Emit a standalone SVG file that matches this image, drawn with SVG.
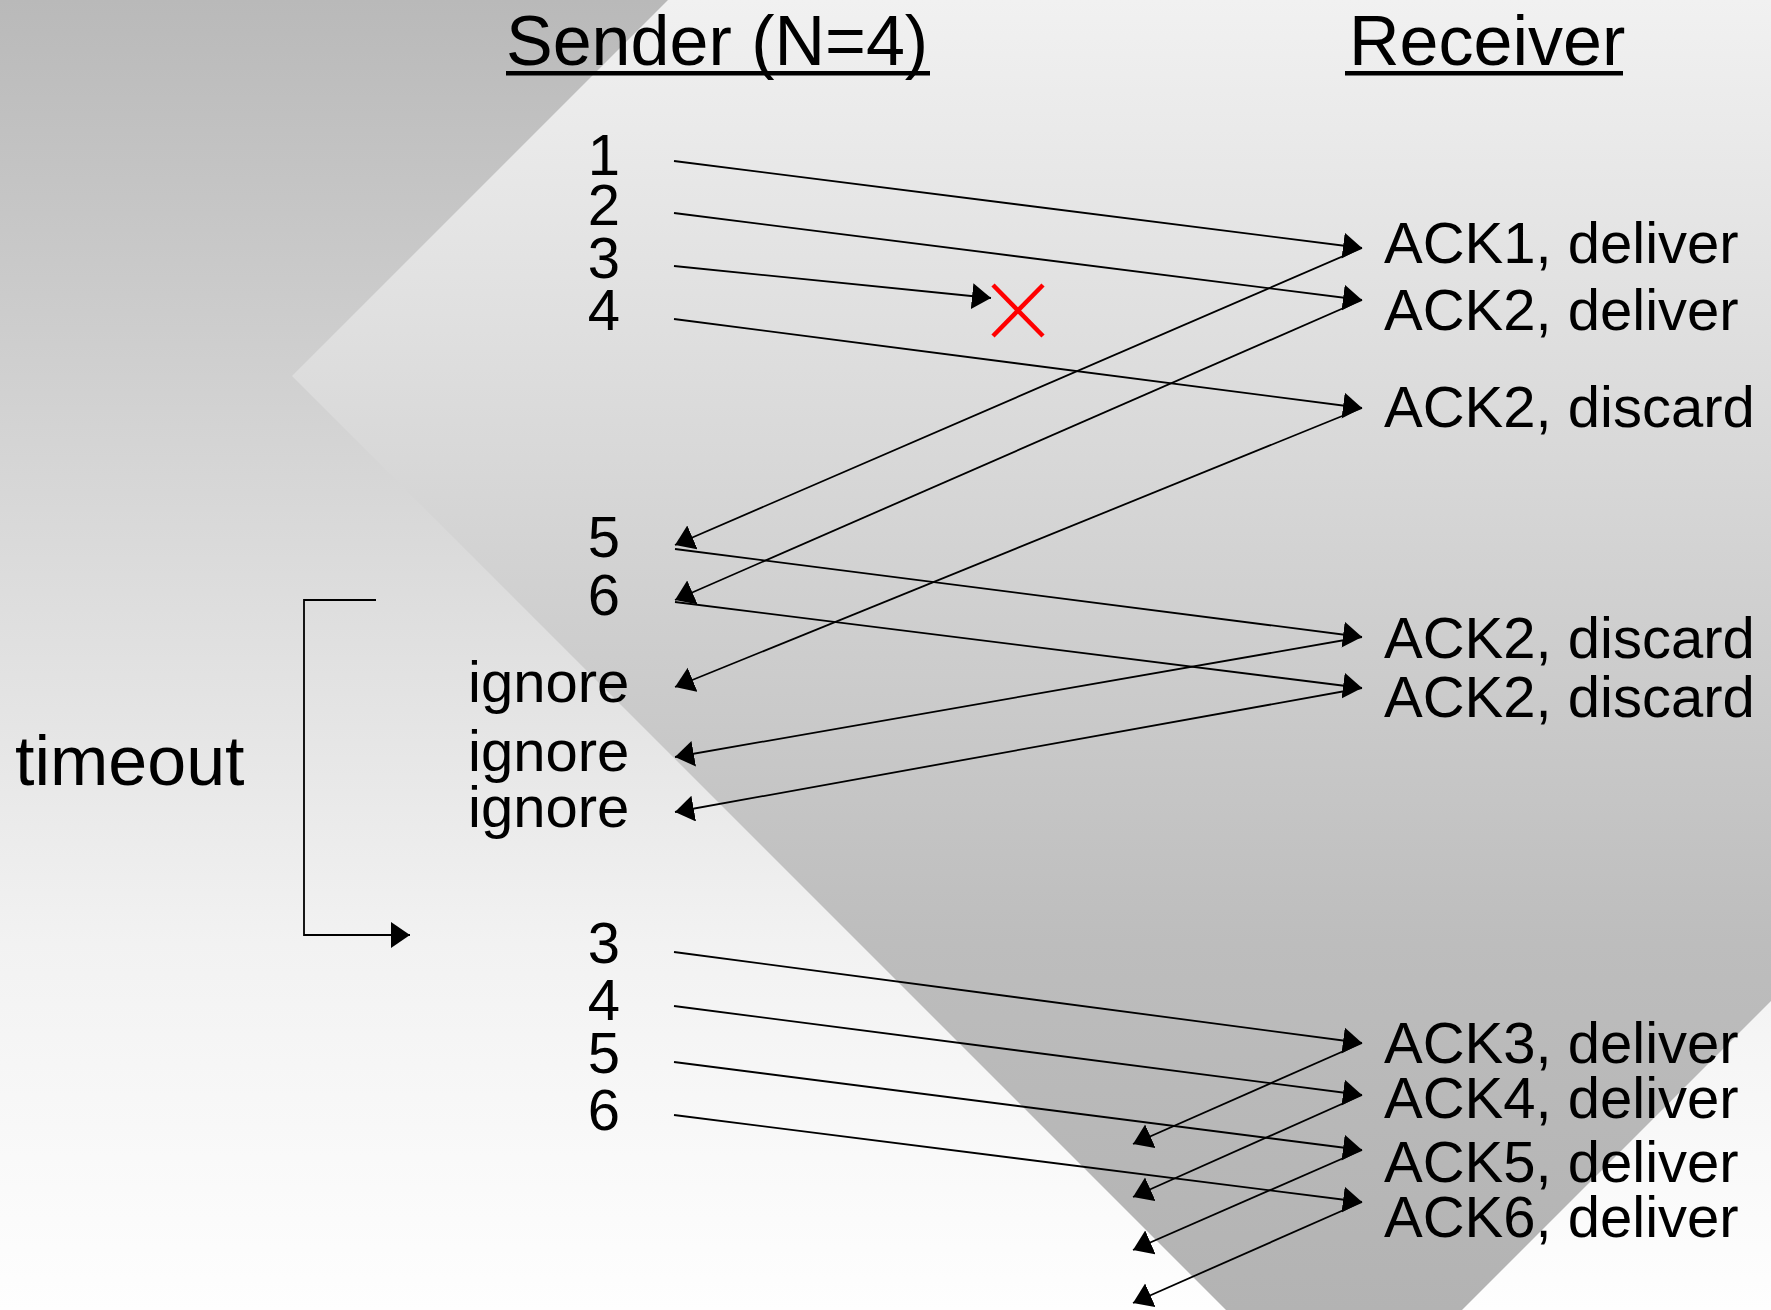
<svg xmlns="http://www.w3.org/2000/svg" width="1771" height="1310" viewBox="0 0 1771 1310">
<defs>
<linearGradient id="gOut" gradientUnits="userSpaceOnUse" x1="0" y1="0" x2="0" y2="1310">
<stop offset="0" stop-color="#b9b9b9"/><stop offset="0.35" stop-color="#d5d5d5"/><stop offset="0.72" stop-color="#f2f2f2"/><stop offset="1" stop-color="#fefefe"/>
</linearGradient>
<linearGradient id="gIn" gradientUnits="userSpaceOnUse" x1="0" y1="0" x2="0" y2="1310">
<stop offset="0" stop-color="#f1f1f1"/><stop offset="0.35" stop-color="#d8d8d8"/><stop offset="0.72" stop-color="#bdbdbd"/><stop offset="1" stop-color="#b3b3b3"/>
</linearGradient>
<marker id="ah" markerUnits="userSpaceOnUse" markerWidth="20" markerHeight="28" refX="19" refY="13" orient="auto">
<path d="M0,0 L19,13 L0,26 Z" fill="#000"/>
</marker>
<style>
.t{font-family:"Liberation Sans",Arial,Helvetica,sans-serif;fill:#000}
.h{font-size:70px}
.n{font-size:58px}
.c line,.c path{stroke:#000;stroke-width:1.8;fill:none;marker-end:url(#ah)}
.x line{stroke:#ff0000;stroke-width:4.5}
</style>
</defs>
<rect x="0" y="0" width="1771" height="1310" fill="url(#gOut)"/>
<polygon points="668,0 1771,0 1771,1001 1462,1310 1226,1310 292,376" fill="url(#gIn)"/>

<g id="title-sender"><text class="t h" x="506" y="65">Sender (N=4)</text><line x1="506" y1="73.3" x2="930" y2="73.3" stroke="#000" stroke-width="4.5"/></g>
<g id="title-receiver"><text class="t h" x="1349" y="65">Receiver</text><line x1="1345" y1="73.3" x2="1623" y2="73.3" stroke="#000" stroke-width="4.5"/></g>

<g id="sender-1"><text class="t n" x="620" y="175" text-anchor="end">1</text></g>
<g id="sender-2"><text class="t n" x="620" y="225" text-anchor="end">2</text></g>
<g id="sender-3"><text class="t n" x="620" y="278" text-anchor="end">3</text></g>
<g id="sender-4"><text class="t n" x="620" y="330" text-anchor="end">4</text></g>
<g id="sender-5"><text class="t n" x="620" y="557" text-anchor="end">5</text></g>
<g id="sender-6"><text class="t n" x="620" y="615" text-anchor="end">6</text></g>
<g id="ignore-1"><text class="t n" x="468" y="702">ignore</text></g>
<g id="ignore-2"><text class="t n" x="468" y="771">ignore</text></g>
<g id="ignore-3"><text class="t n" x="468" y="827">ignore</text></g>
<g id="resend-3"><text class="t n" x="620" y="963" text-anchor="end">3</text></g>
<g id="resend-4"><text class="t n" x="620" y="1020" text-anchor="end">4</text></g>
<g id="resend-5"><text class="t n" x="620" y="1073" text-anchor="end">5</text></g>
<g id="resend-6"><text class="t n" x="620" y="1130" text-anchor="end">6</text></g>
<g id="timeout"><text class="t h" x="15" y="785">timeout</text></g>

<g id="recv-ack1"><text class="t n" x="1384" y="263">ACK1, deliver</text></g>
<g id="recv-ack2a"><text class="t n" x="1384" y="330">ACK2, deliver</text></g>
<g id="recv-ack2b"><text class="t n" x="1384" y="427">ACK2, discard</text></g>
<g id="recv-ack2c"><text class="t n" x="1384" y="658">ACK2, discard</text></g>
<g id="recv-ack2d"><text class="t n" x="1384" y="717">ACK2, discard</text></g>
<g id="recv-ack3"><text class="t n" x="1384" y="1063">ACK3, deliver</text></g>
<g id="recv-ack4"><text class="t n" x="1384" y="1118">ACK4, deliver</text></g>
<g id="recv-ack5"><text class="t n" x="1384" y="1182">ACK5, deliver</text></g>
<g id="recv-ack6"><text class="t n" x="1384" y="1237">ACK6, deliver</text></g>

<g id="loss" class="x"><line x1="993" y1="285" x2="1043" y2="336"/><line x1="1043" y1="285" x2="993" y2="336"/></g>

<g id="connectors" class="c">
<line x1="674" y1="161" x2="1362" y2="248"/>
<line x1="674" y1="213" x2="1362" y2="300"/>
<line x1="674" y1="266" x2="991" y2="298"/>
<line x1="674" y1="319" x2="1362" y2="408"/>
<line x1="1362" y1="248" x2="675" y2="545"/>
<line x1="1362" y1="300" x2="675" y2="600"/>
<line x1="1362" y1="408" x2="675" y2="687"/>
<line x1="675" y1="549" x2="1362" y2="637"/>
<line x1="675" y1="602" x2="1362" y2="688"/>
<line x1="1362" y1="637" x2="675" y2="757"/>
<line x1="1362" y1="688" x2="675" y2="812"/>
<line x1="674" y1="952" x2="1362" y2="1043"/>
<line x1="674" y1="1006" x2="1362" y2="1095"/>
<line x1="674" y1="1062" x2="1362" y2="1150"/>
<line x1="674" y1="1115" x2="1362" y2="1202"/>
<line x1="1362" y1="1043" x2="1133" y2="1144"/>
<line x1="1362" y1="1095" x2="1133" y2="1197"/>
<line x1="1362" y1="1150" x2="1133" y2="1250"/>
<line x1="1362" y1="1202" x2="1133" y2="1303"/>
<path d="M376,600 H304 V935 H410"/>
</g>
</svg>
